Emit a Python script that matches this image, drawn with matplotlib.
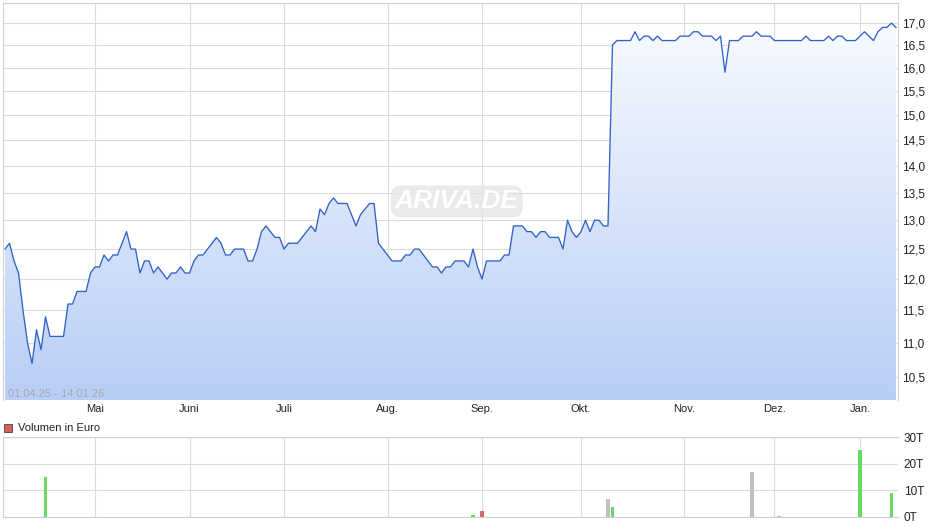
import numpy as np
import pandas as pd
import matplotlib
matplotlib.use('Agg')
import matplotlib.pyplot as plt
from matplotlib.ticker import FixedLocator, NullLocator, NullFormatter, FixedFormatter
from matplotlib.patches import Rectangle

plt.rcParams['font.family'] = ['Liberation Sans', 'DejaVu Sans']

# ---------------- data ----------------
start_date = '2025-04-01'
end_date = '2026-01-14'
holidays = ['2025-04-18', '2025-04-21', '2025-05-01', '2025-12-24',
            '2025-12-25', '2025-12-26', '2025-12-31', '2026-01-01']

prices = [
    12.5, 12.6, 12.3, 12.1, 11.5, 11.0, 10.7, 11.2, 10.9, 11.4,
    11.1, 11.1, 11.1, 11.1, 11.6, 11.6, 11.8, 11.8, 11.8, 12.1,
    12.2, 12.2, 12.4, 12.3, 12.4, 12.4, 12.6, 12.8, 12.5, 12.5,
    12.1, 12.3, 12.3, 12.1, 12.2, 12.1, 12.0, 12.1, 12.1, 12.2,
    12.1, 12.1, 12.3, 12.4, 12.4, 12.5, 12.6, 12.7, 12.6, 12.4,
    12.4, 12.5, 12.5, 12.5, 12.3, 12.3, 12.5, 12.8, 12.9, 12.8,
    12.7, 12.7, 12.5, 12.6, 12.6, 12.6, 12.7, 12.8, 12.9, 12.8,
    13.2, 13.1, 13.3, 13.4, 13.3, 13.3, 13.3, 13.1, 12.9, 13.1,
    13.2, 13.3, 13.3, 12.6, 12.5, 12.4, 12.3, 12.3, 12.3, 12.4,
    12.4, 12.5, 12.5, 12.4, 12.3, 12.2, 12.2, 12.1, 12.2, 12.2,
    12.3, 12.3, 12.3, 12.2, 12.5, 12.2, 12.0, 12.3, 12.3, 12.3,
    12.3, 12.4, 12.4, 12.9, 12.9, 12.9, 12.8, 12.8, 12.7, 12.8,
    12.8, 12.7, 12.7, 12.7, 12.5, 13.0, 12.8, 12.7, 12.8, 13.0,
    12.8, 13.0, 13.0, 12.9, 12.9, 16.5, 16.6, 16.6, 16.6, 16.6,
    16.8, 16.6, 16.7, 16.7, 16.6, 16.7, 16.6, 16.6, 16.6, 16.6,
    16.7, 16.7, 16.7, 16.8, 16.8, 16.7, 16.7, 16.7, 16.6, 16.7,
    15.9, 16.6, 16.6, 16.6, 16.7, 16.7, 16.7, 16.8, 16.7, 16.7,
    16.7, 16.6, 16.6, 16.6, 16.6, 16.6, 16.6, 16.6, 16.7, 16.6,
    16.6, 16.6, 16.6, 16.7, 16.6, 16.7, 16.7, 16.6, 16.6, 16.6,
    16.7, 16.8, 16.7, 16.6, 16.8, 16.9, 16.9, 17.0, 16.9,
]

month_labels = ['Mai', 'Juni', 'Juli', 'Aug.', 'Sep.', 'Okt.', 'Nov.', 'Dez.', 'Jan.']
price_ticks = [10.5, 11.0, 11.5, 12.0, 12.5, 13.0, 13.5, 14.0, 14.5,
               15.0, 15.5, 16.0, 16.5, 17.0]

vol_dates = ['2025-04-14', '2025-08-28', '2025-09-01', '2025-10-09', '2025-10-10',
             '2025-11-24', '2025-12-02', '2026-01-02', '2026-01-13']
vol_values = [15.0, 0.6, 2.3, 6.7, 3.7, 16.9, 0.3, 25.2, 8.9]   # thousand euro
vol_ticks = [0, 10, 20, 30]

range_text = '01.04.25 - 14.01.26'

# ---------------- setup ----------------
dates = pd.bdate_range(start_date, end_date, freq='C', holidays=holidays)
n = min(len(dates), len(prices))
dates = dates[:n]
prices = np.array(prices[:n])
x = np.arange(n)
month_idx = [i for i in range(1, n) if dates[i].month != dates[i - 1].month]

W, H = 940, 526
fig = plt.figure(figsize=(W / 100, H / 100), dpi=100)
fig.patch.set_facecolor('white')

grid_c = '#dcdcdc'
spine_c = '#d0d0d0'
text_c = '#222222'

# ---------------- main price axes ----------------
ax = fig.add_axes([3 / W, 1 - 400 / H, 895 / W, 397 / H])
ax.set_yscale('log')
ax.set_xlim(-0.45, n - 1 + 0.45)
ylo, yhi = 10.18, 17.47

# gradient fill under line
bottom_rgb = np.array([184, 206, 246]) / 255.0
top_rgb = np.array([250, 252, 255]) / 255.0
t = np.linspace(0, 1, 256).reshape(-1, 1, 1)
grad = bottom_rgb * (1 - t) + top_rgb * t
poly = ax.fill_between(x, prices, 1.0, facecolor='none', edgecolor='none')
im = ax.imshow(grad, extent=[0, 1, 0, 1], transform=ax.transAxes,
               origin='lower', aspect='auto', zorder=1, interpolation='bilinear')
im.set_clip_path(poly.get_paths()[0], ax.transData)

ax.plot(x, prices, color='#3062c8', lw=0.95, zorder=3)

ax.set_xlim(-0.45, n - 1 + 0.45)
ax.set_ylim(ylo, yhi)

ax.yaxis.set_major_locator(FixedLocator(price_ticks))
ax.yaxis.set_major_formatter(FixedFormatter([f'{v:.1f}'.replace('.', ',') for v in price_ticks]))
ax.yaxis.set_minor_locator(NullLocator())
ax.yaxis.set_minor_formatter(NullFormatter())
ax.yaxis.tick_right()
ax.set_xticks(month_idx)
ax.set_xticklabels(month_labels[:len(month_idx)])
ax.tick_params(axis='y', length=0, pad=3, labelsize=8.5, colors=text_c)
ax.tick_params(axis='x', length=0, pad=3, labelsize=8, colors=text_c)
ax.grid(True, color=grid_c, lw=0.8, zorder=0)
ax.set_axisbelow(True)
for s in ['top', 'left', 'right']:
    ax.spines[s].set_color(spine_c)
    ax.spines[s].set_linewidth(0.8)
ax.spines['bottom'].set_visible(False)

ax.text(5 / 895, 0.003, range_text, transform=ax.transAxes, fontsize=8,
        color='#a8a8a8', ha='left', va='bottom', zorder=4)
ax.text(0.507, 0.50, 'ARIVA.DE', transform=ax.transAxes, fontsize=19,
        color='white', fontstyle='italic', fontweight='bold', ha='center', va='center',
        zorder=2, bbox=dict(boxstyle='round,pad=0.15,rounding_size=0.4',
                            fc='#e4e4e4', ec='none', alpha=0.75))

# ---------------- volume axes ----------------
vax = fig.add_axes([3 / W, 1 - 516.7 / H, 895 / W, 79.4 / H])
vax.set_xlim(-0.45, n - 1 + 0.45)
vax.set_ylim(0, 30)
date_pos = {d.strftime('%Y-%m-%d'): i for i, d in enumerate(dates)}
for d, v in zip(vol_dates, vol_values):
    i = date_pos.get(d)
    if i is None:
        continue
    diff = prices[i] - prices[i - 1] if i > 0 else 0
    if diff > 1e-9:
        c = '#66d966'
    elif diff < -1e-9:
        c = '#d96666'
    else:
        c = '#c0c0c0'
    vax.bar(i, v, width=0.7, color=c, zorder=3)
vax.set_yticks(vol_ticks)
vax.set_yticklabels([f'{v}T' for v in vol_ticks])
vax.yaxis.tick_right()
vax.set_xticks(month_idx)
vax.set_xticklabels([])
vax.tick_params(axis='y', length=0, pad=4, labelsize=8.5, colors=text_c)
vax.tick_params(axis='x', length=0)
vax.grid(True, color=grid_c, lw=0.8, zorder=0)
vax.set_axisbelow(True)
for s in ['top', 'left', 'bottom']:
    vax.spines[s].set_color(spine_c)
    vax.spines[s].set_linewidth(0.8)
vax.spines['right'].set_visible(False)

# legend for volume
fig.add_artist(Rectangle((4 / W, 1 - 432 / H), 8 / W, 8 / H, transform=fig.transFigure,
                         fc='#d9625e', ec='#444444', lw=0.6))
fig.text(18 / W, 1 - 428 / H, 'Volumen in Euro', fontsize=8, color=text_c,
         ha='left', va='center')

fig.savefig('out.png', dpi=100, facecolor='white')
